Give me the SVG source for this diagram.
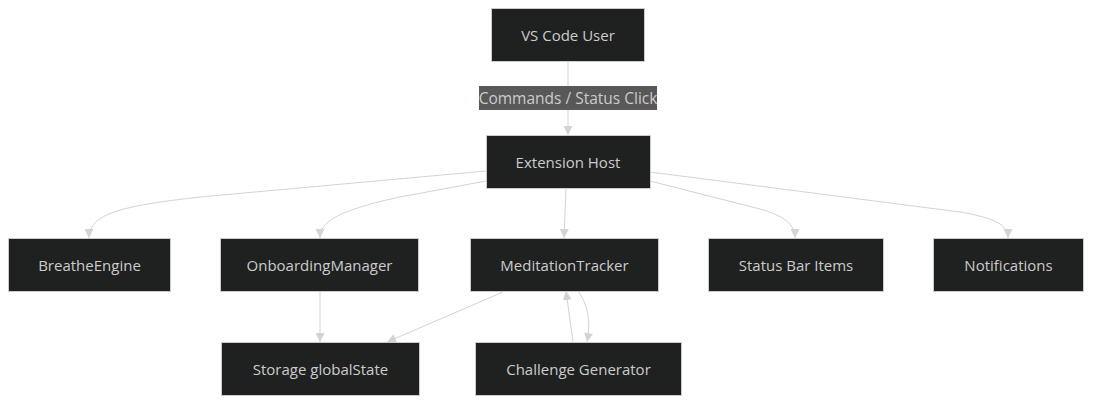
<svg xmlns="http://www.w3.org/2000/svg" width="1099" height="406" viewBox="0 0 1099 406">
<defs>
<style>
.node rect{fill:#1f2020;stroke:#cccccc;stroke-width:1}
.node text{fill:#cccccc;font-family:"Open Sans","DejaVu Sans",sans-serif;font-size:15px;text-anchor:middle;dominant-baseline:central}
.edge{fill:none;stroke:#d3d3d3;stroke-width:1}
.lbl rect{fill:#585858}
.lbl text{fill:#cccccc;font-family:"Open Sans","DejaVu Sans",sans-serif;font-size:15.5px;text-anchor:middle;dominant-baseline:central}
</style>
<marker id="arr" viewBox="0 0 10 10" refX="10" refY="5" markerWidth="9" markerHeight="9" markerUnits="userSpaceOnUse" orient="auto">
<path d="M0,0 L10,5 L0,10 z" fill="#d3d3d3"/>
</marker>
</defs>
<rect width="1099" height="406" fill="#ffffff"/>
<g id="connectors">
<path class="edge" d="M568,61 L568,135" marker-end="url(#arr)"/>
<path class="edge" d="M486,171 L200,197 C120,206 89,214 89,238" marker-end="url(#arr)"/>
<path class="edge" d="M486,181 L400,197 C340,210 320,221 320,238" marker-end="url(#arr)"/>
<path class="edge" d="M566,188 L564,238" marker-end="url(#arr)"/>
<path class="edge" d="M650,181 L760,209 C785,216 795,225 795,238" marker-end="url(#arr)"/>
<path class="edge" d="M650,172 L960,212 C995,218 1008,225 1008,238" marker-end="url(#arr)"/>
<path class="edge" d="M320,291 L320,342" marker-end="url(#arr)"/>
<path class="edge" d="M503,292 L387,342" marker-end="url(#arr)"/>
<path class="edge" d="M573,342 L566,291" marker-end="url(#arr)"/>
<path class="edge" d="M578,291 C588,305 591,320 587,342" marker-end="url(#arr)"/>
</g>
<g id="label-commands" class="lbl">
<rect x="479" y="86" width="178" height="24"/>
<text x="568" y="97.5">Commands / Status Click</text>
</g>
<g id="user" class="node"><rect x="491.5" y="8.5" width="153" height="53"/><text x="568" y="34.5">VS Code User</text></g>
<g id="host" class="node"><rect x="486.5" y="135.5" width="164" height="53"/><text x="568" y="161.5">Extension Host</text></g>
<g id="breathe" class="node"><rect x="8.5" y="238.5" width="162" height="53"/><text x="89.5" y="264.5">BreatheEngine</text></g>
<g id="onboarding" class="node"><rect x="220.5" y="238.5" width="198" height="53"/><text x="319.5" y="264.5">OnboardingManager</text></g>
<g id="tracker" class="node"><rect x="470.5" y="238.5" width="188" height="53"/><text x="564.5" y="264.5">MeditationTracker</text></g>
<g id="statusbar" class="node"><rect x="708.5" y="238.5" width="175" height="53"/><text x="796" y="264.5">Status Bar Items</text></g>
<g id="notifications" class="node"><rect x="933.5" y="238.5" width="150" height="53"/><text x="1008.5" y="264.5">Notifications</text></g>
<g id="storage" class="node"><rect x="221.5" y="342.5" width="198" height="53"/><text x="320.5" y="368.5">Storage globalState</text></g>
<g id="challenge" class="node"><rect x="475.5" y="342.5" width="206" height="53"/><text x="578.5" y="368.5">Challenge Generator</text></g>
</svg>
